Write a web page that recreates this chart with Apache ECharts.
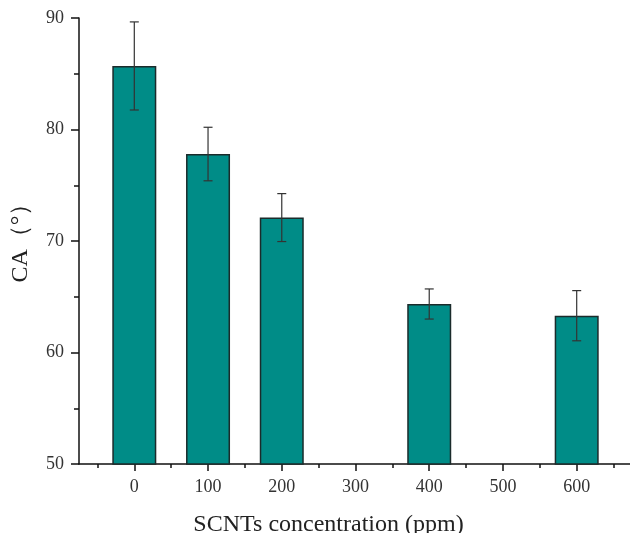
<!DOCTYPE html>
<html><head><meta charset="utf-8">
<script src="https://cdn.jsdelivr.net/npm/echarts@6/dist/echarts.min.js"></script>
<style>html,body{margin:0;padding:0;background:#fff}#c{width:630px;height:533px}</style>
</head><body><div id="c"></div>
<script>
const concentrations = [0, 100, 200, 400, 600];
const caValues = [85.7, 77.8, 72.1, 64.35, 63.3];
const caErrors = [3.95, 2.4, 2.15, 1.35, 2.25];
const xMajorTicks = [0, 100, 200, 300, 400, 500, 600];
const xMinorTicks = [-50, 50, 150, 250, 350, 450, 550, 650];

const serif = '"Liberation Serif","Times New Roman",serif';
const chart = echarts.init(document.getElementById('c'), null, {renderer: 'canvas'});
const barData = concentrations.map((c, i) => [c, caValues[i]]);
const errData = concentrations.map((c, i) => [c, caValues[i] - caErrors[i], caValues[i] + caErrors[i]]);

chart.setOption({
  animation: false,
  backgroundColor: '#fff',
  grid: {left: 79, top: 18, width: 553, height: 446, containLabel: false, outerBoundsMode: 'none'},
  xAxis: [{
    type: 'value', min: -75, max: 675,
    axisLine: {show: true, onZero: false, lineStyle: {color: '#111', width: 1.5}},
    axisTick: {show: true, length: 7, customValues: xMajorTicks, lineStyle: {color: '#111', width: 1.5}},
    axisLabel: {customValues: xMajorTicks, fontFamily: serif, fontSize: 18, color: '#333', margin: 14},
    splitLine: {show: false},
    name: 'SCNTs concentration (ppm)', nameLocation: 'middle', nameGap: 49,
    nameTextStyle: {fontFamily: serif, fontSize: 24, color: '#222', padding: [0, 54, 0, 0]}
  }, {
    type: 'value', min: -75, max: 675, position: 'bottom',
    axisLine: {show: false, onZero: false},
    axisTick: {show: true, length: 4, customValues: xMinorTicks, lineStyle: {color: '#111', width: 1.5}},
    axisLabel: {show: false},
    splitLine: {show: false}
  }],
  yAxis: {
    type: 'value', min: 50, max: 90, interval: 10,
    axisLine: {show: true, onZero: false, lineStyle: {color: '#111', width: 1.5}},
    axisTick: {show: true, length: 8, lineStyle: {color: '#111', width: 1.5}},
    minorTick: {show: true, splitNumber: 2, length: 5, lineStyle: {color: '#111', width: 1.5}},
    axisLabel: {fontFamily: serif, fontSize: 18, color: '#333', margin: 15},
    splitLine: {show: false},
    name: 'CA（°）', nameLocation: 'middle', nameGap: 46, nameRotate: 90,
    nameTextStyle: {fontFamily: serif, fontSize: 24, color: '#222', padding: [0, 0, 0, 8]}
  },
  series: [{
    type: 'bar', data: barData, barWidth: 44, xAxisIndex: 0,
    itemStyle: {color: '#008C87', borderColor: '#1b2b2b', borderWidth: 1.5}
  }, {
    type: 'custom', data: errData, xAxisIndex: 0, z: 10,
    renderItem: function (params, api) {
      const x = api.value(0);
      const lo = api.coord([x, api.value(1)]);
      const hi = api.coord([x, api.value(2)]);
      const hw = 4.5;
      const st = {stroke: '#333', lineWidth: 1.2};
      return {type: 'group', children: [
        {type: 'line', shape: {x1: lo[0], y1: lo[1], x2: hi[0], y2: hi[1]}, style: st},
        {type: 'line', shape: {x1: lo[0] - hw, y1: lo[1], x2: lo[0] + hw, y2: lo[1]}, style: st},
        {type: 'line', shape: {x1: hi[0] - hw, y1: hi[1], x2: hi[0] + hw, y2: hi[1]}, style: st}
      ]};
    }
  }]
});
</script></body></html>
